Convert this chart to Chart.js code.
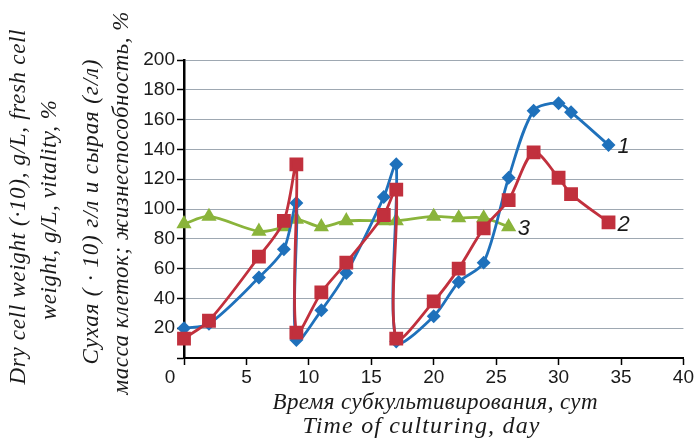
<!DOCTYPE html>
<html>
<head>
<meta charset="utf-8">
<script src="https://cdn.jsdelivr.net/npm/chart.js@4.4.1/dist/chart.umd.min.js"></script>
<style>
  html, body { margin: 0; padding: 0; background: #fff; }
  #wrap { width: 695px; height: 438px; }
</style>
</head>
<body>
<div id="wrap"><canvas id="chart" width="695" height="438"></canvas></div>
<script>
// days and values (duplicate days = reseeding drop)
const days1 = [0, 2, 6, 8, 9, 9, 11, 13, 16, 17, 17, 20, 22, 24, 26, 28, 30, 31, 34];
const series1 = [20, 23, 54, 73, 104, 12, 32, 57, 108, 130, 11, 28, 51, 64, 121, 166, 171, 165, 143];

const days2 = [0, 2, 6, 8, 9, 9, 11, 13, 16, 17, 17, 20, 22, 24, 26, 28, 30, 31, 34];
const series2 = [13, 25, 68, 92, 130, 17, 44, 64, 96, 113, 13, 38, 60, 87, 106, 138, 121, 110, 91];

const days3 = [0, 2, 6, 8, 9, 11, 13, 16, 17, 20, 22, 24, 26];
const series3 = [90, 95, 85, 88, 93, 88, 92, 92, 92, 95, 94, 94, 88];

const seriesTags = ["1", "2", "3"];
const xTicks = [0, 5, 10, 15, 20, 25, 30, 35, 40];
const yTicks = [0, 20, 40, 60, 80, 100, 120, 140, 160, 180, 200];

const yTitle = [
  "Dry cell weight (\u00b710), g/L, fresh cell",
  "weight, g/L, vitality, %",
  "Сухая ( · 10) г/л и сырая (г/л)",
  "масса клеток; жизнеспособность, %"
];
const xTitle = ["Время субкультивирования, сут", "Time of culturing, day"];

function toPoints(xs, ys) {
  return xs.map((x, i) => ({ x: x, y: ys[i] }));
}

// draw text stretched to a given width by letter spacing
function fitText(ctx, text, x, y, width, rot, font) {
  ctx.save();
  ctx.font = font;
  ctx.letterSpacing = "0px";
  const w = ctx.measureText(text).width;
  const n = [...text].length;
  const ls = (width - w) / (n - 1);
  ctx.letterSpacing = ls + "px";
  ctx.translate(x, y);
  ctx.rotate(rot);
  ctx.textAlign = "center";
  ctx.textBaseline = "middle";
  ctx.fillText(text, ls / 2, 0);
  ctx.restore();
}

const textPlugin = {
  id: "textPlugin",
  afterDraw(chart) {
    const ctx = chart.ctx;
    const serif = 'italic 23px "Liberation Serif"';
    const serifWide = 'italic 24px "Liberation Serif"';
    ctx.save();
    ctx.fillStyle = "#1a1a1a";
    fitText(ctx, yTitle[0], 19, 207, 355, -Math.PI / 2, serif);
    fitText(ctx, yTitle[1], 50, 210, 220, -Math.PI / 2, serif);
    fitText(ctx, yTitle[2], 92, 212, 305, -Math.PI / 2, serif);
    fitText(ctx, yTitle[3], 122, 203, 383, -Math.PI / 2, serif);
    fitText(ctx, xTitle[0], 435, 403, 325, 0, serif);
    fitText(ctx, xTitle[1], 421, 427, 237, 0, serifWide);

    // shared origin label
    ctx.font = '19px "Liberation Sans"';
    ctx.textAlign = "center";
    ctx.textBaseline = "middle";
    ctx.fillText("0", 170, 378);

    // curve numbers
    ctx.font = 'italic 22px "Liberation Sans"';
    ctx.textAlign = "left";
    chart.data.datasets.forEach((ds, i) => {
      const meta = chart.getDatasetMeta(i);
      const last = meta.data[meta.data.length - 1];
      ctx.fillText(seriesTags[i], last.x + 9, last.y + 2);
    });
    ctx.restore();
  }
};

const ctx = document.getElementById("chart").getContext("2d");
new Chart(ctx, {
  type: "line",
  data: {
    datasets: [
      {
        label: "1",
        data: toPoints(days1, series1),
        borderColor: "#1f71bb",
        backgroundColor: "#1f71bb",
        borderWidth: 2.8,
        pointStyle: "rectRot",
        pointRadius: 5,
        tension: 0.3,
        clip: false,
        order: 2
      },
      {
        label: "2",
        data: toPoints(days2, series2),
        borderColor: "#c1303d",
        backgroundColor: "#c1303d",
        borderWidth: 2.8,
        pointStyle: "rect",
        pointRadius: 7.8,
        tension: 0.3,
        clip: false,
        order: 1
      },
      {
        label: "3",
        data: toPoints(days3, series3),
        borderColor: "#8ab43b",
        backgroundColor: "#8ab43b",
        borderWidth: 2.8,
        pointStyle: "triangle",
        pointRadius: 6,
        tension: 0.3,
        clip: false,
        order: 3
      }
    ]
  },
  options: {
    responsive: false,
    animation: false,
    layout: { padding: { left: 0, top: 60, right: 11, bottom: 0 } },
    plugins: {
      legend: { display: false },
      tooltip: { enabled: false }
    },
    scales: {
      x: {
        type: "linear",
        min: 0,
        max: 40,
        afterBuildTicks: (scale) => { scale.ticks = xTicks.map(v => ({ value: v })); },
        afterFit: (scale) => { scale.height = 80; },
        ticks: {
          callback: (v) => (v === 0 ? "" : v),
          color: "#1a1a1a",
          font: { family: "Liberation Sans", size: 19 },
          padding: 1,
          maxRotation: 0
        },
        grid: { drawOnChartArea: false, tickLength: 7, tickColor: "#000", tickWidth: 1.5 },
        border: { color: "#000", width: 2 }
      },
      y: {
        min: 0,
        max: 200,
        afterBuildTicks: (scale) => { scale.ticks = yTicks.map(v => ({ value: v })); },
        afterFit: (scale) => { scale.width = 184; },
        ticks: {
          callback: (v) => (v === 0 ? "" : v),
          color: "#1a1a1a",
          font: { family: "Liberation Sans", size: 19 },
          padding: 2
        },
        grid: { color: "#9ea8b2", lineWidth: 1, tickLength: 7, tickColor: "#000", tickWidth: 1.5 },
        border: { color: "#000", width: 2.5 }
      }
    }
  },
  plugins: [textPlugin]
});
</script>
</body>
</html>
